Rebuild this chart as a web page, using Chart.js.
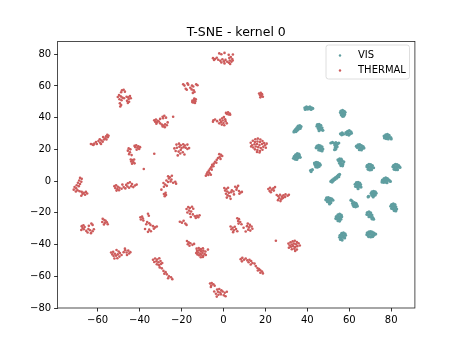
<!DOCTYPE html>
<html>
<head>
<meta charset="utf-8">
<script src="https://cdn.jsdelivr.net/npm/chart.js@4/dist/chart.umd.min.js"></script>
<style>
  html, body { margin: 0; padding: 0; background: #fff; }
  #c { display: block; }
</style>
</head>
<body>
<canvas id="c" width="461" height="346"></canvas>
<script>
// Chart text
const chartTitle = 'T-SNE - kernel 0';
const seriesNames = ['VIS', 'THERMAL'];
const xTicks = [-60, -40, -20, 0, 20, 40, 60, 80];
const yTicks = [-80, -60, -40, -20, 0, 20, 40, 60, 80];

// 2-D embedding of the VIS samples
const visPoints = [
  [38.8,46.2],[39.6,46.8],[40.4,46.4],[41.2,46.8],[42,46.2],[42.6,45.8],[39.4,45.6],[40.2,45.4],[41,45.6],[41.8,45.2],[40.6,46],[39,45.2],
  [56,44.2],[56.8,44.6],[57.6,44],[55.8,43.2],[56.6,43],[57.4,42.8],[58,43.4],[56.2,41.8],[57,41.6],[57.8,42],[56.8,40.8],[57.4,41],
  [36.4,35],[37,34.4],[35.6,34.6],[36.2,33.8],[35,33.6],[35.8,32.8],[34.4,32.6],[35.2,32],[33.8,31.6],[34.6,31.2],[36.6,33.2],[33.6,31],
  [44.8,35.6],[45.6,35.8],[46.4,35.2],[44.6,34.6],[45.4,34.4],[46.2,34],[47,33.6],[45.2,33.2],[46,32.8],[46.8,32.4],[47.4,32],[45.6,31.8],
  [55.8,29.8],[56.6,30.4],[57.2,29.6],[56.4,29.2],[58.4,30.6],[59.2,31.4],[60,31.8],[60.8,31],[59.4,30.2],[60.4,29.8],[58.8,29.4],[59.8,29],[61,30.2],
  [76.6,28.4],[77.4,29.2],[78.2,29.4],[79,28.8],[77.2,27.8],[78,28],[78.8,27.6],[79.8,27.4],[77.6,26.8],[78.6,26.6],[80,26.6],[76.8,27.2],
  [51.2,24],[52,24.4],[52.8,23.8],[53.6,24.2],[54.4,23.6],[55,24],[53.2,22.6],[54,22.8],[53.4,21.4],[54.2,21.6],[53.6,20.2],[53,19.8],
  [44.6,22],[45.4,22.6],[46.2,22.2],[47,21.6],[44.2,21],[45,21.2],[45.8,20.8],[46.6,20.6],[47.4,20.2],[45.4,19.6],[46.2,19.4],[47,19],
  [63.4,22],[64.2,22.8],[65,23],[65.8,22.4],[66.6,21.8],[63.8,21.2],[64.6,21.4],[65.4,21],[66.2,20.6],[67,20.8],[64.8,19.8],[65.8,19.6],
  [35.2,17.4],[36,17],[34.4,16.6],[35.2,16.2],[36.2,16],[33.8,15.6],[34.6,15.2],[35.6,14.8],[33.4,14.4],[34.2,13.8],[35,13.6],[36.6,15],
  [43.4,11.4],[44.2,11.8],[45,11.6],[45.8,11],[43.6,10.4],[44.4,10.2],[45.2,10],[46.2,10.2],[44,9],[44.8,8.8],[45.6,9.2],[41.6,6.8],[42.4,7.2],[41.8,6],
  [54.6,13.4],[55.4,14],[56.2,13.8],[55,12.6],[55.8,12.4],[56.6,12.8],[57.4,12.2],[55.4,11.2],[56.2,11],[57,10.8],[56,9.8],[56.8,9.6],
  [68.6,10],[69.4,10.6],[70.2,10.4],[71,9.8],[68.4,9],[69.2,8.8],[70,8.6],[70.8,8.8],[71.6,8.4],[69,7.4],[69.8,7],[70.6,7.2],
  [81.2,10],[82,10.6],[82.8,10.4],[83.6,9.8],[80.8,9],[81.6,8.8],[82.4,8.6],[83.2,8.8],[84.2,8.6],[81.4,7.4],[82.2,7.2],[83,7.2],
  [54.8,3.8],[55.4,4.2],[54.2,3],[55,2.8],[53.4,2.2],[54,1.8],[52.6,1.4],[53.2,1],[51.8,0.6],[52.4,0.2],[51.2,-0.2],[51.8,-0.6],
  [63.4,-1],[64.2,-0.8],[65,-1.2],[62.8,-2],[63.6,-2.2],[64.4,-2.4],[65.4,-2.2],[63,-3.4],[63.8,-3.6],[64.6,-3.4],[65.6,-3.8],[64.2,-4.8],
  [76.6,1.6],[77.4,2],[78.2,1.6],[75.8,0.6],[76.6,0.4],[77.4,0.8],[78.2,0.4],[79,0.6],[75.6,-0.6],[76.4,-0.8],[77.2,-0.6],[78,-1],[79.6,-0.2],
  [49.2,-10.6],[50,-10.4],[50.8,-10.8],[51.6,-11.2],[48.8,-11.8],[49.6,-11.6],[50.4,-12],[51.2,-12.2],[52.2,-12],[49.6,-13],[50.4,-13.4],[51.2,-13.6],[50.6,-14.4],
  [60.8,-12],[61.4,-12.6],[61.6,-14],[62.4,-13.6],[63.2,-14],[61.8,-15],[62.6,-14.8],[63.6,-15],[62.2,-16],[63,-16.2],[63.8,-15.8],
  [70.8,-6.8],[71.6,-6.4],[72.4,-6.8],[70.4,-7.8],[71.2,-7.6],[72,-8],[72.8,-7.6],[70.8,-9],[71.6,-9.2],[72.4,-8.8],[71.4,-10],[69.2,-9.6],[69,-10],
  [80.2,-14.8],[81,-14.4],[81.8,-14.8],[79.8,-15.8],[80.6,-16],[81.4,-15.8],[82.2,-16.2],[80.2,-17.2],[81,-17.4],[81.8,-17.2],[82.6,-17.6],[81.4,-18.6],[82.2,-18.8],
  [54.6,-21.2],[55.4,-20.8],[56.2,-21.4],[53.8,-22.4],[54.6,-22.2],[55.4,-22.6],[56.4,-22.4],[53.6,-23.6],[54.4,-23.8],[55.2,-23.6],[56,-24],[54.6,-25],[55.4,-25.2],
  [68.6,-19.8],[69.4,-19.4],[70.2,-20],[68.4,-21],[69.2,-21.2],[70,-21],[70.8,-21.4],[69.4,-22.4],[70.4,-22.6],[71.2,-23],[71.6,-24],[70.8,-23.8],
  [56.4,-33],[57.2,-32.6],[58,-33.2],[55.6,-34.2],[56.4,-34],[57.2,-34.4],[58.2,-34.2],[55.4,-35.4],[56.2,-35.6],[57,-35.4],[57.8,-35.8],[55.8,-36.8],[56.6,-37.2],
  [68.6,-32.6],[69.4,-32],[70.2,-31.8],[71,-32.2],[71.8,-32.8],[68.4,-33.8],[69.2,-33.6],[70,-33.4],[70.8,-33.8],[71.8,-34],[72.6,-33.4],[69.2,-35],[70.2,-35.2],[71.2,-35]
];

// 2-D embedding of the THERMAL samples
const thermalPoints = [
  [-2,80.5],[0.5,80.8],[-1,80],[2.5,79.6],[4.5,79.8],[-5,77.5],[-4,77],[-3.2,77.8],[-4.5,76.3],[-2.5,76.5],[-1.5,75.8],[-0.5,76.8],[0.2,75.5],[1,76.4],[-1,74.8],[0.5,74.2],[2.8,77.6],[3.5,78.2],[4.2,77],[3,76],[3.8,75.2],[2.6,74.6],[4.4,76],[1.8,75.2],[3.2,73.8],
  [-19.2,61],[-18.6,60.2],[-17.2,61.6],[-16.8,60.8],[-15,60.2],[-14.4,59.6],[-13,61],[-12.4,60.4],[-18,58.2],[-17.5,57.6],[-15.8,58.8],[-15.2,57.8],[-14.2,57.2],[-14.6,55.6],[-13.8,56.2],[-14.8,50.8],[-14,51.2],[-13.4,50.4],[-14.4,49.6],[-13.6,49.2],[-14.9,49.8],[-13.9,52],[-13.2,51.6],
  [-48.4,57.2],[-47.6,57.6],[-47,56.4],[-48.8,56],[-49.8,54.2],[-50.4,53],[-49,53.4],[-48.2,52.6],[-49.6,51.6],[-48.6,51],[-47.4,52.2],[-46.2,53.2],[-45.4,52.8],[-44.6,53.6],[-45.2,51.8],[-44.2,52.2],[-46,50.6],[-45,50],[-49.4,49],[-48.8,48],[-49.2,47],[-45.6,49.2],
  [-63.2,23.4],[-62.4,23],[-61.6,23.6],[-62,22.8],[-60.4,23.4],[-60.8,24.6],[-59.6,25.2],[-58.8,24.2],[-58.2,25.6],[-59,26.4],[-57.6,24.8],[-57,26.2],[-56.4,27],[-55.8,26.2],[-55.2,27.6],[-56,28.2],[-54.8,28.6],[-55.4,29.2],[-57.4,27.8],[-58.4,23.4],
  [-42.4,22.2],[-41.6,22.6],[-40.6,22],[-39.8,21.4],[-41,21],[-42,21.4],[-40.2,20.2],[-41.4,19.8],[-45.2,20.6],[-44.4,20],[-45.6,19.2],[-44.6,18.2],[-45,17],[-43.8,16.4],[-44.2,13.6],[-43.4,13.2],[-42.6,13.6],[-44,12.4],[-43,12],[-42.4,11.2],[-43.6,11],
  [-33,38.4],[-32.2,38.8],[-31.4,38],[-32.6,37.4],[-31.8,37],[-30.8,37.6],[-32,36.2],[-30.2,36.4],[-29.4,35.6],[-28.6,35],[-27.8,35.8],[-29,34.4],[-28,34],[-27,35.2],[-30.2,39.2],[-29,40.6],[-28.2,41.2],[-28.8,39.6],[-27.4,40],[-26.6,37],
  [-22.4,23],[-21.2,23.6],[-20.4,22.6],[-19.2,23.2],[-18.4,22.4],[-17.2,23],[-23.4,20.6],[-22.2,21],[-21,21.6],[-20,20.8],[-19,21.4],[-18,21],[-17.2,20.2],[-16.4,20.8],[-22.8,19],[-21.4,18.6],[-20.4,19.6],[-19.4,18.2],[-20.6,17.4],[-21.8,16.2],[-18.6,16.8],
  [1.2,43],[2.2,43.4],[3,42.6],[2.4,42],[1.6,42.4],[3.2,41.8],[0.2,40.4],[-0.6,39.6],[0.8,39],[-1.6,38.6],[-0.4,38.2],[1,37.8],[-1.2,37.2],[0,36.6],[-2,36.4],[-0.8,35.6],[0.4,35.2],[-4.8,38.4],[-4,38.8],[-3,37.8],[-5,37.4],[1.6,36.4],
  [-1.2,16.6],[-0.6,15.8],[-1.8,15.2],[-2.6,14.6],[-1.4,14],[-3.2,13.4],[-4,12.2],[-3.4,11.6],[-4.6,11],[-5.4,10.2],[-4.8,9.4],[-5.8,8.8],[-6.4,7.8],[-5.6,7.2],[-7,6.6],[-7.6,5.6],[-6.6,5],[-8,4.4],[-7.2,3.8],[-8.4,3.4],[-6,4],[-2,17],
  [17,55.2],[17.8,55.6],[18.4,54.8],[17.4,54.2],[18.2,53.6],[17.6,52.8],[18.8,53.2],
  [13,24.2],[14,25.4],[15.2,26.4],[16.4,26.8],[17.6,26.2],[15,24.6],[16.2,25],[17.4,24.6],[18.6,25.2],[19.4,24],[13.6,22.6],[14.8,23.2],[16,23.4],[17.2,22.8],[18.4,23.4],[19.8,22.6],[20.6,23.6],[14.2,21.2],[15.4,21.8],[16.6,21.4],[17.8,20.8],[19,21.6],[20.2,21],[15,20],[16.2,19.6],[17.4,19],[18.6,19.8],[16,18.4],[17.2,18],[13.2,21.8],
  [-68.4,2],[-67.6,1.4],[-68.8,0.4],[-67.8,-0.4],[-69.4,-1],[-68.4,-1.8],[-70,-2.6],[-69,-3.2],[-71,-3.8],[-70.2,-4.6],[-71.4,-5.4],[-69.6,-5.8],[-68.6,-6.4],[-67.6,-6.8],[-66.6,-7.4],[-65.6,-6.8],[-67.2,-8.2],[-66,-8.6],[-65,-7.8],[-67.8,-9.2],[-70.4,-6.6],
  [-52,-3.2],[-51.2,-2.6],[-50.4,-3.6],[-51.6,-4.4],[-50.6,-5],[-49.6,-4.2],[-51,-6],[-49.8,-5.8],[-48.6,-4.8],[-47.6,-3.8],[-46.8,-4.6],[-45.8,-3.4],[-45,-4.2],[-44,-3.2],[-43,-3.8],[-42.2,-2.8],[-41.4,-2.2],[-45.6,-1.4],[-44.6,-0.8],[-46.4,-2.4],[-48.2,-2.2],[-43.6,-1.8],
  [-67.6,-28.4],[-66.8,-27.8],[-67.2,-29.6],[-66.2,-29],[-67.8,-30.8],[-66.6,-30.4],[-65.4,-31.4],[-64.4,-30.2],[-63.6,-31],[-64.8,-32.4],[-63.2,-32.8],[-62.4,-31.6],[-61.8,-30.4],[-64.2,-28.2],[-63,-26.8],[-62.4,-27.6],
  [-57.6,-23.8],[-56.8,-24.6],[-57.8,-25.8],[-56.6,-26.4],[-55.6,-26],[-55.2,-27.2],[-57,-27.4],[-56.2,-25],
  [-53.6,-45],[-52.6,-44.6],[-53,-46.2],[-51.8,-45.8],[-52.4,-47.2],[-51.2,-47],[-50.4,-46.2],[-50,-44.4],[-51,-43.4],[-49.4,-45.4],[-50.6,-48.6],[-49.6,-47.6],[-48.6,-46.6],[-47.6,-44.8],[-46.8,-43.6],[-46.2,-45],[-45.4,-43.8],[-45,-45.6],[-44.4,-44.8],[-46,-46.6],[-52,-48.8],[-47,-42.6],
  [-39.6,-22.8],[-38.8,-22.4],[-38.4,-23.6],[-39.4,-24.2],[-38.2,-24.8],[-36,-20.6],[-35.6,-21.8],[-36.4,-25.8],[-35.4,-26.6],[-36.8,-27.2],[-34.8,-27.6],[-33.6,-28.4],[-32.6,-29.2],[-31.8,-28.6],[-33.2,-30],[-35.4,-30.6],[-34.6,-31.6],[-36,-32],[-37.4,-30.2],
  [-26.4,3],[-25.6,2.4],[-24.6,3.4],[-26,1.6],[-24.8,1],[-27.2,0.4],[-26.4,-0.6],[-25.2,-0.2],[-24,-1],[-23,-0.4],[-22.6,-1.6],[-28.6,-1.2],[-27.8,-2.2],[-27,-3],[-28.4,-3.6],[-27.6,-7.4],[-28.4,-8.2],[-27.4,-8.8],[-28,-9.6],[-29.6,-5.4],
  [0.4,-4.4],[1.4,-5],[2.2,-4.2],[0.8,-6],[1.8,-6.6],[2.6,-7.4],[1.2,-8],[2,-9],[3,-9.6],[1.6,-10.4],[4,-5.8],[4.8,-6.6],[3.6,-7],[5.6,-3.6],[6.4,-4.2],[7,-3],[6.2,-5.4],[7.4,-6.2],[8.2,-7.2],[7.6,-8],[8.8,-6.8],[5,-8.4],[3.4,-11.2],
  [-16.8,-16.4],[-16,-17],[-17.6,-17.6],[-15,-16.2],[-14.4,-17.4],[-16.4,-18.6],[-15.4,-19.2],[-17.2,-19.8],[-16,-20.6],[-14.6,-21],[-13.6,-22.2],[-12.6,-21.8],[-13.2,-23.2],[-12,-22.8],[-11.4,-21.6],[-15.6,-22.6],[-20.8,-25.6],[-19.8,-26.2],[-18.2,-26.8],[-17.6,-27.6],[-19,-25],
  [-17.4,-37.8],[-16.6,-38.6],[-17,-39.8],[-15.8,-39.2],[-14.8,-40.2],[-14,-39.6],[-16.2,-40.8],
  [-12.8,-42.6],[-11.8,-42.2],[-10.8,-42.8],[-9.8,-42.4],[-12.6,-44],[-11.6,-43.6],[-10.6,-44.2],[-9.6,-43.8],[-8.6,-44.4],[-13,-45.4],[-12,-45],[-11,-45.6],[-10,-45.2],[-9,-45.8],[-11.6,-46.8],[-10.6,-46.4],[-9.6,-47],[-8.4,-46.6],[-10.8,-48],[-9.8,-47.8],[-7.4,-43.2],[-12.4,-46.2],[-11,-43.2],
  [-33.6,-49.6],[-32.6,-48.8],[-31.6,-49.4],[-30.6,-48.6],[-33,-51],[-32,-50.6],[-31,-51.2],[-30,-50.4],[-29.2,-51.6],[-31.8,-52.4],[-30.8,-53],[-29.8,-52.2],[-30.4,-54.4],[-29.4,-55],[-28.6,-56.6],[-27.6,-57.4],[-28.2,-58.4],[-27,-58.8],[-26,-60],[-25,-60.6],[-26.4,-61.2],[-24.4,-61.8],
  [-6.4,-64.6],[-5.6,-64.2],[-4.8,-65],[-5.8,-65.8],[-4.2,-66],[-6,-66.8],[-3,-68.4],[-2,-68],[-1,-68.8],[-2.6,-69.8],[-1.6,-70.2],[-0.4,-69.6],[0.6,-70.4],[1.6,-69.8],[-3.6,-71],[-2.4,-71.6],[-1.2,-71.4],[0.2,-72],[-3.2,-72.8],[1,-72.6],[-4.4,-69.6],
  [6.6,-23.4],[7.4,-24],[7,-25.2],[8,-25.8],[7.2,-26.8],[8.6,-27.2],[3.4,-28.6],[4.4,-29.4],[5.4,-28.8],[3.8,-30.4],[5,-31],[6,-30.2],[4.6,-32.2],[6.6,-31.6],[11.6,-26.8],[12.6,-27.6],[11.2,-28.4],[12.2,-29.2],[13.4,-28.6],[11.8,-30.6],[12.8,-31.2],[13.8,-30],[10.6,-31.8],[9.6,-29.4],
  [21.4,-5],[22.2,-4.2],[23,-5.4],[22,-6.2],[23.8,-4.6],[24.6,-3.8],[24,-6],[22.6,-7],[25.4,-8.8],[26.2,-9.6],[27,-8.6],[27.8,-9.8],[28.6,-9],[29.6,-8.4],[30.6,-9.2],[31.2,-8.6],[26.6,-10.8],[27.6,-11.4],[26,-12],[27.2,-12.6],[28.4,-10.6],[29.4,-10],
  [25,-37.6],
  [31,-39.4],[32,-38.6],[33,-38],[34,-37.6],[35,-38.4],[31.6,-40.6],[32.6,-40],[33.6,-39.4],[34.6,-39.8],[35.8,-39.2],[31.2,-42],[32.2,-41.4],[33.2,-41],[34.2,-41.6],[35.2,-41],[36.4,-40.6],[32.6,-43],[33.8,-42.6],[35,-43.2],[34.2,-44],
  [8.2,-49.2],[9,-48.4],[9.8,-49.6],[10.6,-48.8],[8.8,-50.6],[11.4,-50],[12.4,-49.6],[13.2,-50.4],[12,-51.2],[13.8,-51.6],[14.8,-52],[13,-52.6],[15.4,-53.6],[16.2,-54.8],[17,-55.4],[16.4,-56.4],[17.6,-56.2],[18.4,-57],[17.6,-57.8],[18.8,-58.2],
  [-38,7.6],[-33,17.2],[-24,40.6]
];

const VIS_COLOR = '#5f9ea0';
const THERMAL_COLOR = '#cd5c5c';
const FONT = "'DejaVu Sans', sans-serif";

const toXY = arr => arr.map(p => ({ x: p[0], y: p[1] }));
const fmt = v => (v < 0 ? '\u2212' + Math.abs(v) : String(v));

// Plot frame, title and legend box
const framePlugin = {
  id: 'frame',
  afterDatasetsDraw(chart) {
    const { ctx, chartArea: a } = chart;
    ctx.save();
    ctx.strokeStyle = '#222';
    ctx.lineWidth = 0.8;
    ctx.strokeRect(a.left, a.top, a.right - a.left, a.bottom - a.top);

    // title
    ctx.fillStyle = '#000';
    ctx.font = '12.5px ' + FONT;
    ctx.textAlign = 'center';
    ctx.textBaseline = 'alphabetic';
    ctx.fillText(chartTitle, (a.left + a.right) / 2, 36);

    // legend
    const bx = 326, by = 45, bw = 83.5, bh = 34, r = 2.5;
    ctx.beginPath();
    ctx.moveTo(bx + r, by);
    ctx.lineTo(bx + bw - r, by);
    ctx.quadraticCurveTo(bx + bw, by, bx + bw, by + r);
    ctx.lineTo(bx + bw, by + bh - r);
    ctx.quadraticCurveTo(bx + bw, by + bh, bx + bw - r, by + bh);
    ctx.lineTo(bx + r, by + bh);
    ctx.quadraticCurveTo(bx, by + bh, bx, by + bh - r);
    ctx.lineTo(bx, by + r);
    ctx.quadraticCurveTo(bx, by, bx + r, by);
    ctx.closePath();
    ctx.fillStyle = 'rgba(255,255,255,0.8)';
    ctx.fill();
    ctx.strokeStyle = '#d6d6d6';
    ctx.lineWidth = 0.8;
    ctx.stroke();

    const colors = [VIS_COLOR, THERMAL_COLOR];
    ctx.font = '10px ' + FONT;
    ctx.textAlign = 'left';
    ctx.textBaseline = 'middle';
    seriesNames.forEach((name, i) => {
      const yy = by + 10 + i * 15;
      ctx.fillStyle = colors[i];
      ctx.beginPath();
      ctx.arc(bx + 14, yy + 0.5, 1.2, 0, Math.PI * 2);
      ctx.fill();
      ctx.fillStyle = '#000';
      ctx.fillText(name, bx + 32, yy);
    });
    ctx.restore();
  }
};

const axisCommon = {
  type: 'linear',
  border: { display: false },
  grid: {
    display: true,
    drawOnChartArea: false,
    drawTicks: true,
    tickLength: 3.5,
    tickWidth: 0.8,
    tickColor: '#000',
    color: '#000'
  },
  ticks: {
    color: '#000',
    font: { family: FONT, size: 10 },
    padding: 3,
    maxRotation: 0,
    autoSkip: false,
    callback: v => fmt(v)
  }
};

new Chart(document.getElementById('c'), {
  type: 'scatter',
  data: {
    datasets: [
      {
        label: seriesNames[0],
        data: toXY(visPoints),
        backgroundColor: VIS_COLOR,
        borderWidth: 0,
        pointRadius: 1.6,
        pointHoverRadius: 1.6
      },
      {
        label: seriesNames[1],
        data: toXY(thermalPoints),
        backgroundColor: THERMAL_COLOR,
        borderWidth: 0,
        pointRadius: 1.3,
        pointHoverRadius: 1.3
      }
    ]
  },
  options: {
    responsive: false,
    animation: false,
    devicePixelRatio: 1,
    layout: { padding: { left: 0, right: 46.1, top: 41.5, bottom: 0 } },
    plugins: {
      legend: { display: false },
      tooltip: { enabled: false },
      title: { display: false }
    },
    scales: {
      x: Object.assign({}, axisCommon, {
        position: 'bottom',
        min: -79.1,
        max: 91.3,
        afterBuildTicks: s => { s.ticks = xTicks.map(v => ({ value: v })); },
        afterFit: s => { s.height = 38; }
      }),
      y: Object.assign({}, axisCommon, {
        position: 'left',
        min: -80,
        max: 88,
        afterBuildTicks: s => { s.ticks = yTicks.map(v => ({ value: v })); },
        afterFit: s => { s.width = 57.6; }
      })
    }
  },
  plugins: [framePlugin]
});
</script>
</body>
</html>
